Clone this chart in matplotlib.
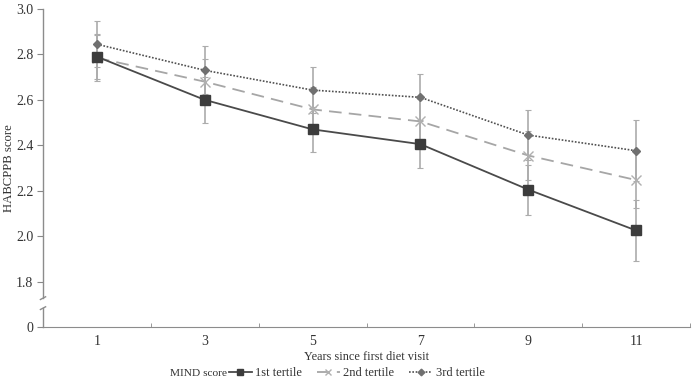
import matplotlib
matplotlib.use("Agg")
import matplotlib.pyplot as plt
import matplotlib.transforms as mtrans

plt.rcParams['font.family'] = ['Liberation Serif', 'DejaVu Serif']

years = ["1", "3", "5", "7", "9", "11"]
t1 = [2.79, 2.60, 2.47, 2.405, 2.205, 2.025]
t1_err = [0.10, 0.10, 0.10, 0.105, 0.11, 0.135]
t2 = [2.785, 2.68, 2.558, 2.505, 2.355, 2.247]
t2_err = [0.10, 0.10, 0.10, 0.10, 0.11, 0.125]
t3 = [2.845, 2.73, 2.643, 2.611, 2.445, 2.376]
t3_err = [0.10, 0.105, 0.10, 0.105, 0.11, 0.135]
series_names = ["1st tertile", "2nd tertile", "3rd tertile"]
ytick_vals = [1.6, 1.8, 2.0, 2.2, 2.4, 2.6, 2.8, 3.0]
ytick_labels = ["0", "1.8", "2.0", "2.2", "2.4", "2.6", "2.8", "3.0"]

fig = plt.figure(figsize=(6.94, 3.84), dpi=100)
ax = fig.add_axes([43/694, 1-327/384, (690-43)/694, (327-9)/384])

x = list(range(len(years)))
ecol = "#acacac"
for vals, errs in [(t1, t1_err), (t2, t2_err), (t3, t3_err)]:
    ax.errorbar(x, vals, yerr=errs, fmt='none', ecolor=ecol, elinewidth=1.2,
                capsize=2, capthick=0.8, zorder=1)

ax.plot(x, t1, color="#4a4a4a", lw=1.3, marker='s', ms=6.5, mfc="#3c3c3c",
        mec="#3c3c3c", zorder=3, label=series_names[0])
ax.plot(x, t2, color="#a6a6a6", lw=1.3, ls=(0, (7, 4)), marker='x', ms=6.5,
        mew=1.0, mec="#b0b0b0", zorder=2, label=series_names[1])
ax.plot(x, t3, color="#505050", lw=1.2, ls=(0, (1, 1)), marker='D', ms=4.5,
        mfc="#707070", mec="#707070", zorder=4, label=series_names[2])

ax.set_xlim(-0.5, len(years) - 0.5)
ax.set_ylim(1.6, 3.0)
ax.set_xticks(x)
ax.set_xticklabels(years)
ax.set_xticks([i - 0.5 for i in range(len(years) + 1)], minor=True)
ax.tick_params(axis='x', which='major', length=0, pad=6, labelsize=10, labelcolor="#333333")
ax.tick_params(axis='x', which='minor', length=3, direction='in', color="#888888")
ax.set_yticks(ytick_vals)
ax.set_yticklabels(ytick_labels)
ax.tick_params(axis='y', length=4, color="#888888", labelsize=10, labelcolor="#333333", pad=3)

for s in ['top', 'right', 'left']:
    ax.spines[s].set_visible(False)
ax.spines['bottom'].set_color("#8c8c8c")

# broken y axis
trans = mtrans.blended_transform_factory(ax.transAxes, ax.transData)
gap_hi, gap_lo = 1.727, 1.683
ax.plot([0, 0], [gap_hi, 3.0], transform=trans, color="#8c8c8c", lw=1, clip_on=False)
ax.plot([0, 0], [1.6, gap_lo], transform=trans, color="#8c8c8c", lw=1, clip_on=False)
dx = 0.004
for yb in (gap_hi, gap_lo):
    ax.plot([-dx, dx], [yb - 0.006, yb + 0.006], transform=trans, color="#8c8c8c",
            lw=1, clip_on=False)

ax.set_xlabel("Years since first diet visit", fontsize=8.8, color="#333333", labelpad=2)
ax.set_ylabel("HABCPPB score", fontsize=9.2, color="#333333")
ax.yaxis.set_label_coords((15 - 43) / 647, 0.5)

fig.text(170/694, 1-373/384, "MIND score", fontsize=8.2, color="#333333", va='center', ha='left')
handles, labels = ax.get_legend_handles_labels()
fig.legend(handles, labels, loc='center left', bbox_to_anchor=(229/694, 1-373/384),
           ncol=3, frameon=False, fontsize=9.0, handlelength=1.8, handletextpad=0.3,
           columnspacing=1.2, borderaxespad=0, borderpad=0, labelcolor="#333333",
           markerscale=0.75)

fig.savefig("out.png", dpi=100)
